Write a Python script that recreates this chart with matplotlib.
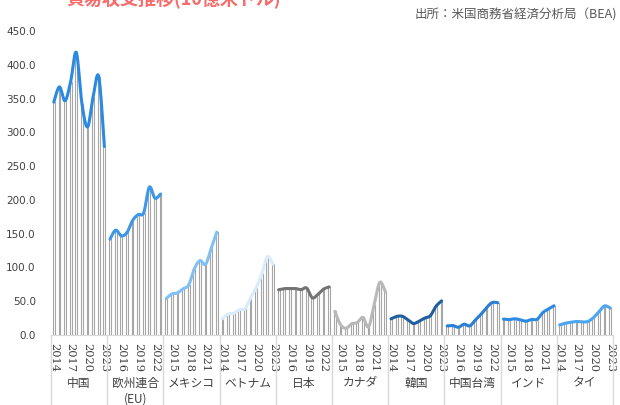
import numpy as np
import matplotlib
matplotlib.use('Agg')
import matplotlib.pyplot as plt
import matplotlib.transforms as mtransforms

plt.rcParams['font.family'] = ['Noto Sans CJK JP', 'DejaVu Sans']

years = list(range(2014, 2024))
countries = ['中国', '欧州連合', 'メキシコ', 'ベトナム', '日本', 'カナダ', '韓国', '中国台湾', 'インド', 'タイ']
china = [344.8, 367.3, 346.8, 375.2, 418.2, 342.6, 308.0, 352.8, 382.3, 279.1]
eu = [142.0, 155.2, 146.8, 151.4, 169.3, 178.2, 181.0, 218.9, 202.5, 208.7]
mexico = [54.0, 60.7, 62.3, 68.5, 74.0, 98.0, 110.2, 104.6, 128.3, 152.4]
vietnam = [24.0, 30.9, 32.0, 37.5, 39.0, 55.0, 69.7, 90.0, 116.1, 104.6]
japan = [67.0, 68.6, 68.8, 68.8, 67.2, 69.5, 55.0, 60.2, 67.9, 71.2]
canada = [35.0, 15.5, 10.0, 16.5, 18.5, 26.0, 12.0, 45.0, 78.0, 64.0]
korea = [24.0, 27.5, 27.7, 22.5, 17.0, 20.5, 25.0, 28.5, 42.5, 50.5]
taiwan = [13.5, 14.0, 11.5, 16.0, 13.5, 22.0, 30.5, 40.5, 48.0, 47.8]
india = [23.5, 22.8, 24.0, 22.5, 20.5, 23.0, 23.3, 33.1, 38.3, 43.3]
thailand = [15.0, 17.4, 18.9, 20.0, 19.3, 20.0, 25.5, 34.4, 43.1, 40.0]
series = [china, eu, mexico, vietnam, japan, canada, korea, taiwan, india, thailand]
line_colors = ['#2a8ae2', '#3c97ea', '#80c0f2', '#d8ecfc', '#737373',
               '#b8b8b8', '#1f5fa0', '#2a7fd2', '#2d8ae4', '#4aa6f0']
yticks = np.arange(0, 451, 50)


def smooth(x, y, n=20):
    # Catmull-Rom curve through the points, like Excel's smoothed line
    x = np.asarray(x, float)
    y = np.asarray(y, float)
    px = np.concatenate([[x[0]], x, [x[-1]]])
    py = np.concatenate([[y[0]], y, [y[-1]]])
    t = np.linspace(0, 1, n)[:, None]
    xs, ys = [], []
    for i in range(1, len(px) - 2):
        for p, out in ((px, xs), (py, ys)):
            p0, p1, p2, p3 = p[i - 1], p[i], p[i + 1], p[i + 2]
            c = 0.5 * ((2 * p1) + (-p0 + p2) * t + (2 * p0 - 5 * p1 + 4 * p2 - p3) * t ** 2
                       + (-p0 + 3 * p1 - 3 * p2 + p3) * t ** 3)
            out.append(c.ravel())
    return np.concatenate(xs), np.concatenate(ys)


fig = plt.figure(figsize=(6.2, 4.05), dpi=100)
ax = fig.add_axes([51 / 620, 1 - 335 / 405, 562 / 620, 304 / 405])

n = len(years)
for g, vals in enumerate(series):
    xs = np.arange(n) + g * n
    ax.bar(xs, vals, width=0.32, facecolor='white', edgecolor='#a6a6a6', linewidth=0.8, zorder=2)
    sx, sy = smooth(xs, vals)
    ax.plot(sx, sy, color=line_colors[g], lw=2.2, zorder=3, solid_capstyle='round')

ax.set_xlim(-0.5, len(series) * n - 0.5)
ax.set_ylim(0, 450)
ax.set_yticks(yticks)
ax.set_yticklabels([f'{v:.1f}' for v in yticks], fontsize=7.5, color='#404040', family='DejaVu Sans')
ax.tick_params(axis='y', length=0, pad=11)

idx = np.arange(0, len(series) * n, 3)
ax.set_xticks(idx)
ax.set_xticklabels([str(years[i % n]) for i in idx], rotation=270, fontsize=8.2, color='#404040',
                   family='DejaVu Serif')
ax.tick_params(axis='x', length=0, pad=6)

for s in ['top', 'right', 'left']:
    ax.spines[s].set_visible(False)
ax.spines['bottom'].set_color('#d9d9d9')

trans = mtransforms.blended_transform_factory(ax.transData, ax.transAxes)
for g in range(len(series) + 1):
    ax.plot([g * n - 0.5] * 2, [0, -72 / 304], transform=trans, color='#d9d9d9', lw=1, clip_on=False)
for g, name in enumerate(countries):
    ax.text(g * n + 4.5, -48 / 304, name, transform=trans, ha='center', va='center',
            fontsize=8.5, color='#404040')
ax.text(n + 4.5, -64 / 304, '(EU)', transform=trans, ha='center', va='center',
        fontsize=8.5, color='#404040')

fig.text(174 / 620, 1 - 5 / 405, '貿易収支推移(10億米ドル)', ha='center', va='baseline',
         fontsize=13, fontweight='bold', color='#f76b6b')
fig.text(617 / 620, 1 - 15 / 405, '出所：米国商務省経済分析局（BEA)', ha='right', va='center',
         fontsize=9, color='#595959')

fig.savefig('out.png', dpi=100)
